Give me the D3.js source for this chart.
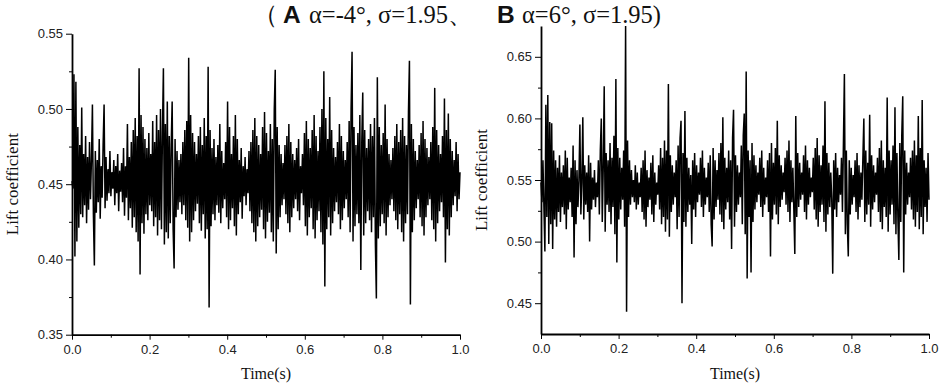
<!DOCTYPE html>
<html><head><meta charset="utf-8">
<script src="https://cdn.jsdelivr.net/npm/d3@7"></script>
<style>
body{margin:0;background:#fff;}
svg{display:block;}
.tick text{font-family:"Liberation Sans",Arial,sans-serif;font-size:13px;fill:#222;}
.axis path,.axis line{stroke:#000;}
</style></head><body>
<svg id="c" width="941" height="386"></svg>
<script>
const leftValues = [
0.452,0.447,0.523,0.402,0.518,0.412,0.488,0.421,0.476,0.430,0.501,0.428,0.470,0.436,0.482,0.424,0.468,0.433,0.478,0.440,
0.466,0.503,0.430,0.396,0.472,0.431,0.466,0.438,0.480,0.427,0.462,0.441,0.476,0.503,0.434,0.468,0.439,0.460,0.444,0.472,
0.442,0.458,0.447,0.466,0.436,0.462,0.444,0.470,0.432,0.459,0.445,0.464,0.438,0.474,0.429,0.462,0.441,0.490,0.426,0.468,
0.434,0.478,0.421,0.486,0.428,0.494,0.418,0.482,0.412,0.527,0.390,0.496,0.424,0.488,0.417,0.480,0.430,0.474,0.426,0.484,
0.436,0.470,0.432,0.492,0.422,0.478,0.428,0.496,0.416,0.486,0.426,0.500,0.420,0.484,0.527,0.410,0.490,0.418,0.505,0.414,
0.482,0.424,0.476,0.505,0.420,0.394,0.480,0.428,0.472,0.433,0.466,0.438,0.470,0.430,0.478,0.436,0.486,0.426,0.492,0.421,
0.534,0.412,0.496,0.418,0.484,0.426,0.478,0.432,0.470,0.437,0.482,0.424,0.488,0.419,0.476,0.430,0.494,0.414,0.482,0.420,
0.528,0.368,0.486,0.422,0.474,0.430,0.480,0.426,0.468,0.436,0.476,0.431,0.490,0.424,0.472,0.434,0.464,0.440,0.478,0.428,
0.505,0.420,0.488,0.426,0.470,0.434,0.482,0.422,0.496,0.416,0.480,0.430,0.466,0.438,0.474,0.427,0.462,0.442,0.468,0.436,
0.460,0.444,0.472,0.432,0.478,0.424,0.486,0.418,0.494,0.412,0.482,0.422,0.476,0.428,0.470,0.433,0.488,0.420,0.498,0.414,
0.484,0.425,0.472,0.431,0.490,0.418,0.480,0.412,0.500,0.526,0.404,0.488,0.420,0.476,0.428,0.470,0.436,0.464,0.440,0.476,
0.430,0.482,0.424,0.490,0.418,0.478,0.428,0.470,0.434,0.466,0.440,0.474,0.432,0.480,0.426,0.462,0.444,0.470,0.436,0.484,
0.422,0.492,0.416,0.480,0.428,0.474,0.434,0.486,0.420,0.496,0.414,0.482,0.426,0.472,0.432,0.488,0.418,0.500,0.410,0.525,
0.382,0.494,0.420,0.480,0.428,0.508,0.416,0.486,0.424,0.474,0.432,0.468,0.438,0.478,0.430,0.490,0.420,0.482,0.426,0.472,
0.434,0.466,0.440,0.478,0.428,0.492,0.418,0.500,0.538,0.412,0.488,0.422,0.476,0.430,0.484,0.424,0.496,0.393,0.478,0.511,
0.416,0.486,0.424,0.474,0.432,0.480,0.426,0.490,0.418,0.482,0.428,0.494,0.410,0.374,0.521,0.414,0.488,0.422,0.476,0.430,
0.484,0.424,0.503,0.416,0.480,0.428,0.470,0.436,0.466,0.440,0.474,0.432,0.482,0.426,0.490,0.420,0.478,0.430,0.486,0.418,
0.494,0.412,0.482,0.424,0.476,0.430,0.498,0.532,0.370,0.490,0.418,0.480,0.426,0.472,0.434,0.466,0.440,0.476,0.428,0.484,
0.422,0.492,0.416,0.480,0.428,0.474,0.436,0.468,0.440,0.478,0.426,0.488,0.420,0.514,0.412,0.486,0.424,0.476,0.432,0.470,
0.438,0.482,0.428,0.507,0.398,0.486,0.420,0.497,0.416,0.480,0.428,0.472,0.436,0.466,0.442,0.478,0.432,0.470,0.440,0.458
];
const rightValues = [
0.548,0.532,0.566,0.528,0.492,0.611,0.520,0.619,0.498,0.597,0.514,0.596,0.494,0.574,0.518,0.566,0.512,0.560,0.524,0.570,
0.516,0.556,0.528,0.562,0.522,0.574,0.510,0.568,0.526,0.552,0.532,0.560,0.520,0.578,0.487,0.566,0.514,0.558,0.528,0.550,
0.595,0.522,0.548,0.601,0.518,0.562,0.530,0.556,0.524,0.570,0.500,0.564,0.526,0.552,0.534,0.558,0.528,0.548,0.536,0.566,
0.522,0.574,0.600,0.516,0.560,0.626,0.508,0.572,0.530,0.566,0.524,0.580,0.514,0.568,0.528,0.586,0.506,0.632,0.483,0.576,
0.518,0.568,0.526,0.560,0.534,0.574,0.512,0.675,0.443,0.582,0.520,0.566,0.530,0.558,0.536,0.550,0.532,0.562,0.526,0.556,
0.530,0.548,0.536,0.560,0.524,0.566,0.518,0.574,0.512,0.558,0.528,0.552,0.534,0.564,0.522,0.570,0.516,0.556,0.530,0.548,
0.538,0.562,0.526,0.576,0.514,0.568,0.520,0.582,0.508,0.574,0.518,0.628,0.504,0.570,0.524,0.562,0.530,0.556,0.536,0.566,
0.510,0.578,0.520,0.584,0.598,0.450,0.572,0.516,0.606,0.512,0.568,0.524,0.560,0.530,0.554,0.498,0.566,0.526,0.572,0.520,
0.562,0.532,0.556,0.538,0.568,0.528,0.574,0.520,0.560,0.530,0.552,0.536,0.564,0.524,0.570,0.514,0.496,0.576,0.518,0.566,
0.528,0.558,0.534,0.572,0.522,0.580,0.516,0.601,0.510,0.568,0.526,0.560,0.532,0.574,0.518,0.566,0.494,0.584,0.607,0.512,
0.570,0.524,0.562,0.530,0.556,0.536,0.578,0.514,0.586,0.604,0.506,0.638,0.470,0.574,0.520,0.566,0.475,0.580,0.516,0.570,
0.526,0.562,0.532,0.556,0.538,0.568,0.528,0.574,0.520,0.560,0.530,0.552,0.536,0.566,0.524,0.572,0.488,0.580,0.518,0.564,
0.530,0.576,0.522,0.598,0.514,0.570,0.528,0.562,0.534,0.556,0.540,0.568,0.530,0.574,0.524,0.582,0.516,0.566,0.532,0.560,
0.526,0.490,0.602,0.520,0.572,0.528,0.564,0.534,0.556,0.538,0.570,0.524,0.578,0.518,0.566,0.530,0.560,0.536,0.552,0.540,
0.568,0.526,0.576,0.518,0.584,0.512,0.570,0.524,0.562,0.530,0.578,0.516,0.614,0.508,0.572,0.522,0.564,0.528,0.556,0.534,
0.474,0.566,0.526,0.572,0.520,0.560,0.532,0.554,0.538,0.568,0.524,0.580,0.636,0.506,0.574,0.514,0.488,0.566,0.522,0.560,
0.530,0.554,0.536,0.566,0.524,0.572,0.518,0.562,0.528,0.556,0.534,0.568,0.600,0.516,0.574,0.522,0.564,0.530,0.603,0.512,
0.570,0.526,0.562,0.532,0.556,0.538,0.568,0.524,0.576,0.516,0.582,0.510,0.566,0.528,0.560,0.520,0.617,0.508,0.574,0.522,
0.566,0.530,0.578,0.514,0.609,0.506,0.572,0.520,0.485,0.580,0.516,0.586,0.618,0.475,0.574,0.522,0.564,0.530,0.556,0.536,
0.568,0.526,0.574,0.518,0.582,0.512,0.570,0.524,0.602,0.510,0.576,0.520,0.615,0.506,0.566,0.528,0.560,0.516,0.572,0.534
];
const xTicks = [0, 0.2, 0.4, 0.6, 0.8, 1.0];
const xMinorTicks = [0.1, 0.3, 0.5, 0.7, 0.9];
const leftYTicks = [0.35, 0.40, 0.45, 0.50, 0.55];
const leftYMinor = [0.375, 0.425, 0.475, 0.525];
const rightYTicks = [0.45, 0.50, 0.55, 0.60, 0.65];
const rightYMinor = [0.475, 0.525, 0.575, 0.625];
const titleA = ["（", "A", "α=-4°, σ=1.95、"];
const titleB = ["B", "α=6°, σ=1.95)"];
const xLabel = "Time(s)";
const yLabel = "Lift coefficient";

const svg = d3.select("#c");

function panel(values, xr, yd, yr, yTicks, yMinor) {
  const x = d3.scaleLinear().domain([0, 1]).range(xr);
  const y = d3.scaleLinear().domain(yd).range(yr);
  const g = svg.append("g");
  const line = d3.line().x((d, i) => x(i / (values.length - 1))).y(d => y(d));
  g.append("path").datum(values).attr("d", line)
    .attr("fill", "none").attr("stroke", "#000").attr("stroke-width", 1.5).attr("stroke-linejoin", "bevel");
  g.append("g").attr("class", "axis").attr("transform", `translate(0,${yr[0]})`)
    .call(d3.axisBottom(x).tickValues(xMinorTicks).tickSize(3).tickFormat("").tickSizeOuter(0))
    .call(a => a.select(".domain").remove());
  g.append("g").attr("class", "axis").attr("transform", `translate(0,${yr[0]})`)
    .call(d3.axisBottom(x).tickValues(xTicks).tickSize(5).tickPadding(5).tickFormat(d3.format(".1f")).tickSizeOuter(0))
    .call(a => a.select(".domain").attr("stroke-width", 1.8));
  g.append("g").attr("class", "axis").attr("transform", `translate(${xr[0]},0)`)
    .call(d3.axisLeft(y).tickValues(yMinor).tickSize(3).tickFormat("").tickSizeOuter(0))
    .call(a => a.select(".domain").remove());
  g.append("g").attr("class", "axis").attr("transform", `translate(${xr[0]},0)`)
    .call(d3.axisLeft(y).tickValues(yTicks).tickSize(6).tickPadding(3).tickFormat(d3.format(".2f")).tickSizeOuter(0))
    .call(a => a.select(".domain").attr("stroke-width", 1.8));
  g.selectAll(".tick line").attr("stroke-width", 1);
  g.append("text").attr("x", (xr[0] + xr[1]) / 2).attr("y", 379)
    .attr("text-anchor", "middle").attr("font-family", "Liberation Serif, Times New Roman, serif")
    .attr("font-size", 16).attr("fill", "#111").text(xLabel);
  const cy = (yr[0] + yr[1]) / 2;
  g.append("text").attr("transform", `translate(${xr[0] - 54},${cy}) rotate(-90)`)
    .attr("text-anchor", "middle").attr("font-family", "Liberation Serif, Times New Roman, serif")
    .attr("font-size", 17).attr("fill", "#111").text(yLabel);
}

panel(leftValues, [72, 460], [0.35, 0.55], [334.7, 33.7], leftYTicks, leftYMinor);
panel(rightValues, [541, 929], [0.425, 0.675], [334, 26], rightYTicks, rightYMinor);

function title(parts, boldIdx, xs) {
  const t = svg.append("text").attr("y", 23)
    .attr("font-family", "Liberation Serif, Times New Roman, serif").attr("font-size", 24.5).attr("fill", "#111");
  parts.forEach((p, i) => {
    const s = t.append("tspan").attr("x", xs[i]).text(p);
    if (i === boldIdx) s.attr("font-family", "Liberation Sans, Arial, sans-serif").attr("font-weight", "bold");
  });
}
title(titleA, 1, [253, 283, 309]);
title(titleB, 0, [497, 522]);
</script></body></html>
